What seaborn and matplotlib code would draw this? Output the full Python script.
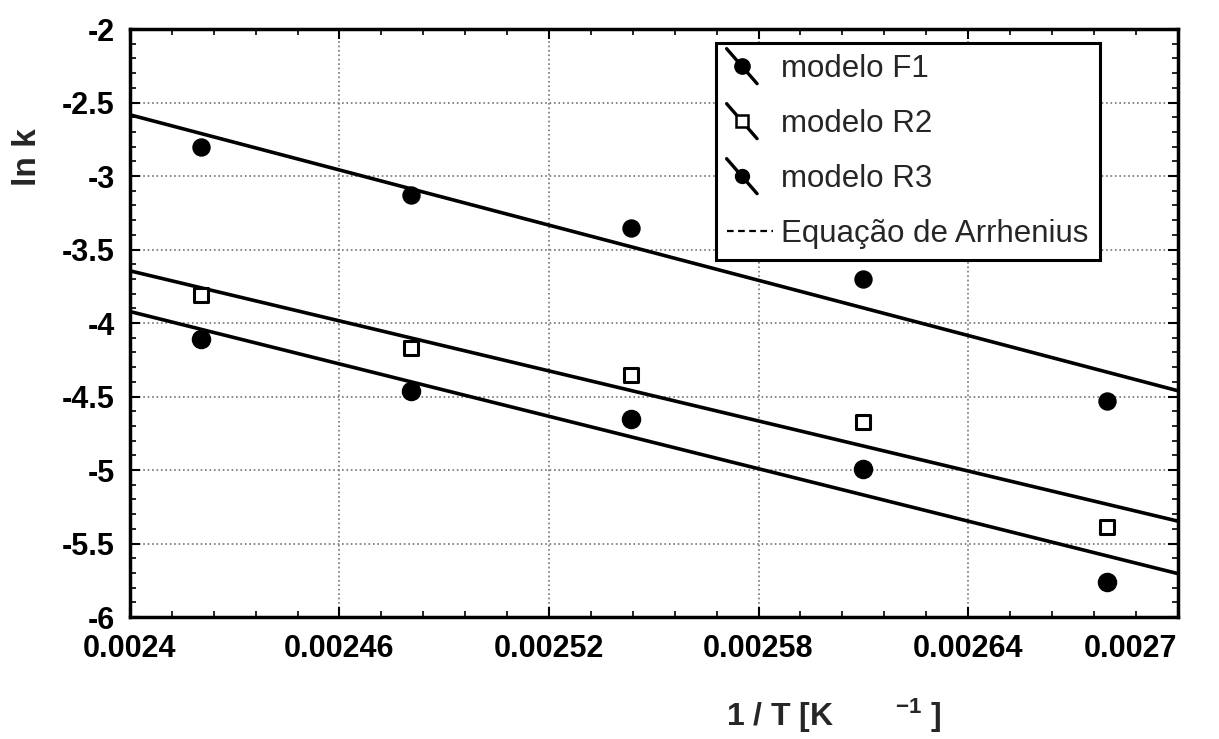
import matplotlib
matplotlib.use("Agg")
import matplotlib.pyplot as plt
import seaborn as sns
import numpy as np
import pandas as pd
from matplotlib.lines import Line2D
from matplotlib.legend_handler import HandlerBase
from matplotlib.ticker import MultipleLocator, FixedLocator, FixedFormatter

# ---- data ----
inv_T = [0.0024204, 0.0024805, 0.0025436, 0.0026099, 0.0026799]
ln_k_F1 = [-2.80, -3.13, -3.35, -3.70, -4.53]
ln_k_R2 = [-3.81, -4.17, -4.35, -4.67, -5.39]
ln_k_R3 = [-4.11, -4.46, -4.65, -4.99, -5.76]
series_names = ["modelo F1", "modelo R2", "modelo R3"]
fit_name = "Equação de Arrhenius"
x_ticks = [0.0024, 0.00246, 0.00252, 0.00258, 0.00264, 0.0027]
x_tick_labels = ["0.0024", "0.00246", "0.00252", "0.00258", "0.00264", "0.0027"]
y_ticks = [-6, -5.5, -5, -4.5, -4, -3.5, -3, -2.5, -2]
y_tick_labels = ["-6", "-5.5", "-5", "-4.5", "-4", "-3.5", "-3", "-2.5", "-2"]

sns.set_style("ticks")
plt.rcParams["font.family"] = ["Liberation Sans", "DejaVu Sans"]
plt.rcParams["axes.unicode_minus"] = False
plt.rcParams["mathtext.fontset"] = "custom"
plt.rcParams["mathtext.rm"] = "Liberation Sans:bold"
plt.rcParams["mathtext.default"] = "rm"

fig = plt.figure(figsize=(12.19, 7.39), dpi=100)
ax = fig.add_axes([0.1066, 0.165, 0.8594, 0.7957])
ax.set_xlim(0.0024, 0.0027)
ax.set_ylim(-6, -2)

df = pd.DataFrame({
    "x": inv_T * 3,
    "y": ln_k_F1 + ln_k_R2 + ln_k_R3,
    "s": [series_names[0]] * 5 + [series_names[1]] * 5 + [series_names[2]] * 5,
})

styles = {
    series_names[0]: dict(marker="o", s=150, color="black", edgecolor="black", linewidth=1),
    series_names[1]: dict(marker="s", s=110, color="white", edgecolor="black", linewidth=2.2),
    series_names[2]: dict(marker="o", s=170, color="black", edgecolor="black", linewidth=1),
}

for name, vals in zip(series_names, [ln_k_F1, ln_k_R2, ln_k_R3]):
    sns.regplot(x=inv_T, y=vals, scatter=False, ci=None, truncate=False, ax=ax,
                line_kws=dict(color="black", lw=2.6, zorder=3))

for name in series_names:
    sub = df[df["s"] == name]
    st = styles[name]
    sns.scatterplot(data=sub, x="x", y="y", ax=ax, marker=st["marker"], s=st["s"],
                    color=st["color"], edgecolor=st["edgecolor"], linewidth=st["linewidth"],
                    zorder=4, legend=False)

ax.set_xlim(0.0024, 0.0027)
ax.set_ylim(-6, -2)

ax.xaxis.set_major_locator(FixedLocator(x_ticks))
ax.xaxis.set_major_formatter(FixedFormatter(x_tick_labels))
ax.yaxis.set_major_locator(FixedLocator(y_ticks))
ax.yaxis.set_major_formatter(FixedFormatter(y_tick_labels))
ax.xaxis.set_minor_locator(MultipleLocator(0.000012))
ax.yaxis.set_minor_locator(MultipleLocator(0.1))

ax.tick_params(which="both", direction="in", top=True, right=True, colors="black")
ax.tick_params(which="major", length=7, width=1.5, labelsize=22)
ax.tick_params(axis="x", which="major", pad=12)
ax.tick_params(axis="y", which="major", pad=11)
ax.tick_params(which="minor", length=4, width=1.2)
fig.canvas.draw()
xlabs = ax.get_xticklabels()
for lab in xlabs + ax.get_yticklabels():
    lab.set_fontweight("bold")
xlabs[-1].set_horizontalalignment("right")
ax.set_xticklabels(xlabs)

ax.grid(True, which="major", color="0.45", linestyle=":", linewidth=1.2)
for sp in ax.spines.values():
    sp.set_linewidth(2.5)
    sp.set_color("black")
    sp.set_visible(True)

ax.set_xlabel(r"1 / T [K       $^{-1}$ ]", fontsize=23, fontweight="bold")
ax.xaxis.set_label_coords(0.672, -0.135)
ax.set_ylabel("ln k", fontsize=24, fontweight="bold")
ax.yaxis.set_label_coords(-0.083, 0.782)


class HandlerDiag(HandlerBase):
    def __init__(self, marker, mfc, ms, mew):
        super().__init__()
        self.marker, self.mfc, self.ms, self.mew = marker, mfc, ms, mew

    def create_artists(self, legend, orig_handle, xdescent, ydescent, width, height, fontsize, trans):
        x0 = -xdescent + 0.0 * width
        x1 = -xdescent + 0.65 * width
        y0 = -ydescent - 0.3 * height
        y1 = -ydescent + 1.3 * height
        ln = Line2D([x0, x1], [y1, y0], color="black", lw=2.4, transform=trans)
        mk = Line2D([(x0 + x1) / 2], [(y0 + y1) / 2], marker=self.marker, markersize=self.ms,
                    markerfacecolor=self.mfc, markeredgecolor="black", markeredgewidth=self.mew,
                    linestyle="none", transform=trans)
        return [ln, mk]


h1 = Line2D([], [], color="black")
h2 = Line2D([], [], color="black")
h3 = Line2D([], [], color="black")
h4 = Line2D([], [], color="black", linestyle=(0, (3, 2)), lw=1.6)
leg = ax.legend([h1, h2, h3, h4], series_names + [fit_name],
                handler_map={h1: HandlerDiag("o", "black", 11, 1),
                             h2: HandlerDiag("s", "white", 8, 1.8),
                             h3: HandlerDiag("o", "black", 10, 1)},
                loc="upper right", bbox_to_anchor=(0.9256, 0.976), frameon=True, fancybox=False,
                edgecolor="black", framealpha=1, fontsize=22.5, handlelength=1.5,
                handletextpad=0.25, labelspacing=0.8, borderpad=0.35, borderaxespad=0)
leg.get_frame().set_linewidth(2.2)
leg.set_zorder(10)

fig.savefig("out.png", dpi=100, facecolor="white")
